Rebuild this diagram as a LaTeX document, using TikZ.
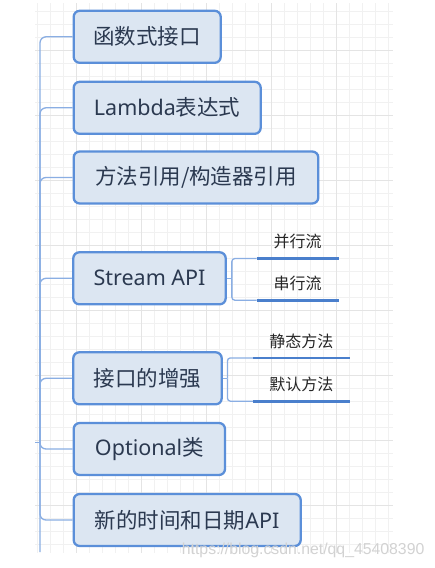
\documentclass[tikz,border=0pt]{standalone}
\usepackage{fontspec}
\setmainfont{Noto Sans}
\newfontfamily\cjk{Noto Sans CJK SC}
\newfontfamily\wmfont{Liberation Sans}
\definecolor{boxfill}{HTML}{DCE6F2}
\definecolor{boxborder}{HTML}{5B8FD9}
\definecolor{linec}{HTML}{8AAEE3}
\definecolor{ulinec}{HTML}{4A7FCC}
\definecolor{textc}{HTML}{2B3950}
\definecolor{gridminor}{HTML}{F1F1F1}
\definecolor{gridmajor}{HTML}{E4E4E4}
\definecolor{wmc}{HTML}{D2D2D2}
\begin{document}
\begin{tikzpicture}[x=1pt,y=-1pt,
  topic/.style={draw=boxborder, line width=2.3pt, fill=boxfill, rounded corners=6pt,
    minimum height=52pt, inner sep=0pt, text=textc, font=\fontsize{21.5}{24}\selectfont},
  subtopic/.style={inner sep=0pt, minimum height=33.2pt, text=black!85,
    font=\cjk\fontsize{16}{18}\selectfont},
  branch/.style={draw=linec, line width=1.3pt, rounded corners=6pt},
  subbranch/.style={draw=linec, line width=1.3pt, rounded corners=3pt},
  uline/.style={draw=ulinec, line width=2.8pt},
  gminor/.style={draw=gridminor, line width=1pt},
  gmajor/.style={draw=gridmajor, line width=1pt}]
\useasboundingbox (0,0) rectangle (435,568);
\fill[white] (0,0) rectangle (435,568);
% grid background
\begin{scope}
\clip (35,3) rectangle (393,553);
\foreach \i in {0,...,27} \draw[gminor] ({37.7+13*\i},3) -- ++(0,550);
\foreach \j in {0,...,41} \draw[gminor] (35,{11.7+13*\j}) -- ++(358,0);
\foreach \i in {0,...,5} \draw[gmajor] ({11.7+65*\i},3) -- ++(0,550);
\foreach \j in {0,...,8} \draw[gmajor] (35,{-14.3+65*\j}) -- ++(358,0);
\end{scope}
% main topics
\node[topic, minimum width=147pt] (b1) at (147.2,36.8) {\cjk 函数式接口};
\node[topic, minimum width=187pt] (b2) at (167.2,107.8) {Lambda{\cjk 表达式}};
\node[topic, minimum width=244.6pt] (b3) at (196,177.5) {\cjk 方法引用/构造器引用};
\node[topic, minimum width=152.4pt] (b4) at (149.5,278.3) {Stream API};
\node[topic, minimum width=148.4pt] (b5) at (147.5,378.3) {\cjk 接口的增强};
\node[topic, minimum width=151.3pt] (b6) at (149.35,449) {Optional{\cjk 类}};
\node[topic, minimum width=227pt] (b7) at (187.2,520) {{\cjk 新的时间和日期}API};
% trunk
\coordinate (root) at (35,442.7);
\coordinate (hub) at (40,442.7);
\coordinate (bottom) at (40,552);
\draw[branch] (b1.west) -| (bottom);
\foreach \k in {2,3,4,5} \draw[branch] (b\k.west) -| (hub);
\foreach \k in {6,7} \draw[branch] (hub) |- (b\k.west);
\draw[branch] (root) -- (hub);
% subtopics of Stream API
\node[subtopic, minimum width=81.6pt] (s1) at (297.5,241.7) {并行流};
\node[subtopic, minimum width=81.6pt] (s2) at (297.5,283.4) {串行流};
\draw[subbranch] (b4.east) -- ++(5,0) coordinate (j4);
\draw[subbranch] (j4) |- (s1.south west);
\draw[subbranch] (j4) |- (s2.south west);
\draw[uline] (s1.south west) -- (s1.south east);
\draw[uline] (s2.south west) -- (s2.south east);
% subtopics of interface enhancement
\node[subtopic, minimum width=96pt] (s3) at (301.3,341.1) {静态方法};
\node[subtopic, minimum width=96pt] (s4) at (301.3,384.4) {默认方法};
\draw[subbranch] (b5.east) -- ++(4.6,0) coordinate (j5);
\draw[subbranch] (j5) |- (s3.south west);
\draw[subbranch] (j5) |- (s4.south west);
\draw[uline] (s3.south west) -- (s3.south east);
\draw[uline] (s4.south west) -- (s4.south east);
% watermark
\node[anchor=west, inner sep=0pt, text=wmc, font=\wmfont\fontsize{15.8}{18}\selectfont] (wm) at (181.7,550) {https://blog.csdn.net/qq\_45408390};
\end{tikzpicture}
\end{document}
